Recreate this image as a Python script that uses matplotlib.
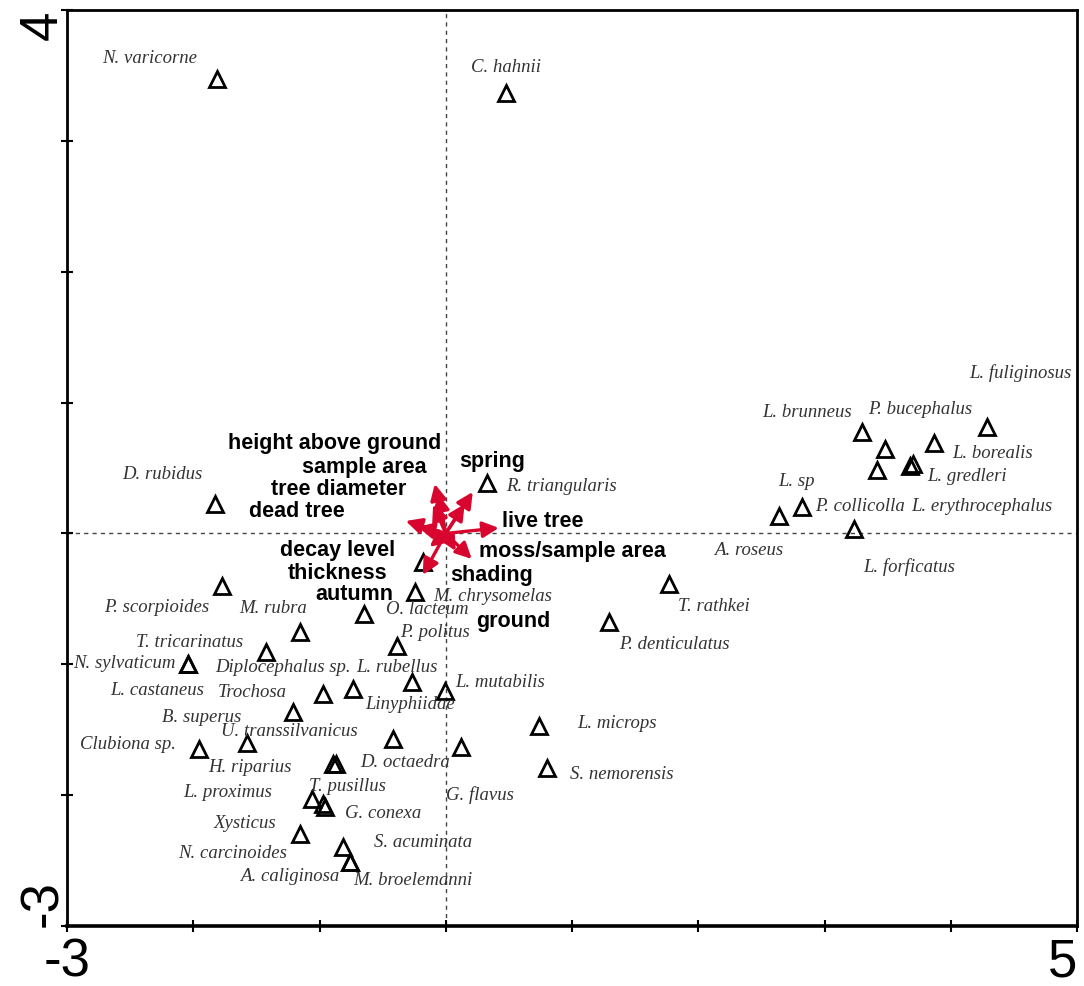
import matplotlib
matplotlib.use("Agg")
import matplotlib.pyplot as plt

# species scores (triangles) and where their names sit
species = [
    "N. varicorne", "C. hahnii", "D. rubidus", "R. triangularis",
    "L. fuliginosus", "L. brunneus", "P. bucephalus", "L. borealis",
    "L. gredleri", "L. erythrocephalus", "L. sp", "P. collicolla",
    "A. roseus", "L. forficatus", "P. scorpioides", "M. chrysomelas",
    "O. lacteum", "M. rubra", "P. politus", "T. rathkei",
    "P. denticulatus", "T. tricarinatus", "N. sylvaticum", "L. castaneus",
    "Diplocephalus sp.", "L. rubellus", "L. mutabilis", "Linyphiidae",
    "Trochosa", "B. superus", "U. transsilvanicus", "G. flavus",
    "H. riparius", "Clubiona sp.", "D. octaedra", "T. pusillus",
    "L. microps", "S. nemorensis", "L. proximus", "G. conexa",
    "N. carcinoides", "Xysticus", "S. acuminata", "A. caliginosa",
    "M. broelemanni",
]
sp_x = [
    -1.814, 0.475, -1.830, 0.325,
    4.285, 3.295, 3.477, 3.865,
    3.675, 3.699, 2.820, 3.414,
    2.638, 3.232, -1.774, -0.246,
    -0.650, -1.156, -0.388, 1.766,
    1.291, -1.426, -2.044, -2.044,
    -0.182, -0.269, -0.008, -0.737,
    -0.974, -1.212, -0.420, 0.119,
    -1.576, -1.956, -0.895, -0.871,
    0.737, 0.800, -1.061, -0.958,
    -0.974, -1.156, -0.816, -0.760,
    -0.760,
]
sp_y = [
    3.472, 3.365, 0.225, 0.386,
    0.814, 0.775, 0.646, 0.691,
    0.516, 0.531, 0.202, 0.485,
    0.134, 0.034, -0.401, -0.447,
    -0.615, -0.752, -0.859, -0.386,
    -0.676, -0.905, -0.997, -0.997,
    -0.218, -1.134, -1.203, -1.188,
    -1.226, -1.364, -1.570, -1.631,
    -1.600, -1.646, -1.761, -1.761,
    -1.471, -1.791, -2.028, -2.089,
    -2.066, -2.296, -2.395, -2.510,
    -2.510,
]
lab_x = [
    -2.345, 0.475, -2.242, 0.919,
    4.554, 2.859, 3.754, 4.333,
    4.127, 4.246, 2.780, 3.279,
    2.400, 3.667, -2.289, 0.372,
    -0.150, -1.370, -0.087, 2.123,
    1.814, -2.028, -2.543, -2.289,
    -1.291, -0.388, 0.428, -0.285,
    -1.529, -1.933, -1.236, 0.269,
    -1.552, -2.519, -0.325, -0.776,
    1.354, 1.394, -1.727, -0.499,
    -1.687, -1.592, -0.182, -1.236,
    -0.261,
]
lab_y = [
    3.640, 3.571, 0.455, 0.363,
    1.234, 0.928, 0.951, 0.615,
    0.439, 0.210, 0.401, 0.210,
    -0.126, -0.248, -0.562, -0.477,
    -0.577, -0.569, -0.752, -0.554,
    -0.844, -0.829, -0.989, -1.196,
    -1.016, -1.020, -1.134, -1.303,
    -1.211, -1.402, -1.509, -1.990,
    -1.784, -1.608, -1.745, -1.929,
    -1.448, -1.837, -1.975, -2.135,
    -2.441, -2.212, -2.357, -2.616,
    -2.647,
]

# environmental variables: arrow tips and label centres
env = [
    "height above ground", "sample area", "tree diameter", "dead tree",
    "spring", "live tree", "moss/sample area", "decay level",
    "thickness", "autumn", "shading", "ground",
]
env_x = [-0.087, -0.060, -0.100, -0.317, 0.214, 0.420, 0.206, -0.222, -0.127, -0.182, 0.079, 0.150]
env_y = [0.378, 0.300, 0.220, 0.095, 0.317, 0.042, -0.195, 0.050, -0.103, -0.317, -0.134, 0.225]
env_lx = [-0.880, -0.642, -0.848, -1.180, 0.364, 0.768, 1.006, -0.856, -0.856, -0.721, 0.364, 0.531]
env_ly = [0.698, 0.515, 0.340, 0.172, 0.561, 0.096, -0.134, -0.126, -0.302, -0.462, -0.317, -0.669]

xticks = [-3, -2, -1, 0, 1, 2, 3, 4, 5]
yticks = [-3, -2, -1, 0, 1, 2, 3, 4]

fig = plt.figure(figsize=(10.84, 9.87), dpi=100)
ax = fig.add_axes([67 / 1084, 60 / 987, 1010 / 1084, 916 / 987])
ax.set_xlim(-3, 5)
ax.set_ylim(-3, 4)

ax.axhline(0, color="#444444", lw=1, ls=(0, (3, 3)), zorder=1)
ax.axvline(0, color="#444444", lw=1, ls=(0, (3, 3)), zorder=1)

ax.plot(sp_x, sp_y, ls="none", marker="^", ms=12, mfc="none", mec="black", mew=2, zorder=3)
for name, x, y in zip(species, lab_x, lab_y):
    ax.text(x, y, name, ha="center", va="center", fontsize=13.5, style="italic",
            family="Liberation Serif", color="#333333", zorder=4)

red = "#d8062e"
for x, y in zip(env_x, env_y):
    ax.annotate("", xy=(x, y), xytext=(0, 0),
                arrowprops=dict(arrowstyle="-|>", color=red, lw=2.4, mutation_scale=24,
                                shrinkA=0, shrinkB=0), zorder=5)
for name, x, y in zip(env, env_lx, env_ly):
    ax.text(x, y, name, ha="center", va="center", fontsize=15.5, weight="bold",
            family="Liberation Sans", color="black", zorder=6)

ax.set_xticks(xticks)
ax.set_yticks(yticks)
ax.set_xticklabels([str(t) if t in (xticks[0], xticks[-1]) else "" for t in xticks])
ax.set_yticklabels([str(t) if t in (yticks[0], yticks[-1]) else "" for t in yticks],
                   rotation=90)
ylabs = ax.get_yticklabels()
ylabs[0].set_va("bottom")
ylabs[-1].set_va("top")
ax.get_xticklabels()[-1].set_ha("right")
for lab in ax.get_xticklabels() + ax.get_yticklabels():
    lab.set_family("Liberation Sans")
    lab.set_fontsize(38)
ax.tick_params(direction="inout", length=9, width=1.5, pad=3)
ax.tick_params(axis="y", pad=-5)

for s in ax.spines.values():
    s.set_linewidth(2)
ax.spines["bottom"].set_linewidth(2.6)

fig.savefig("out.png", dpi=100)
